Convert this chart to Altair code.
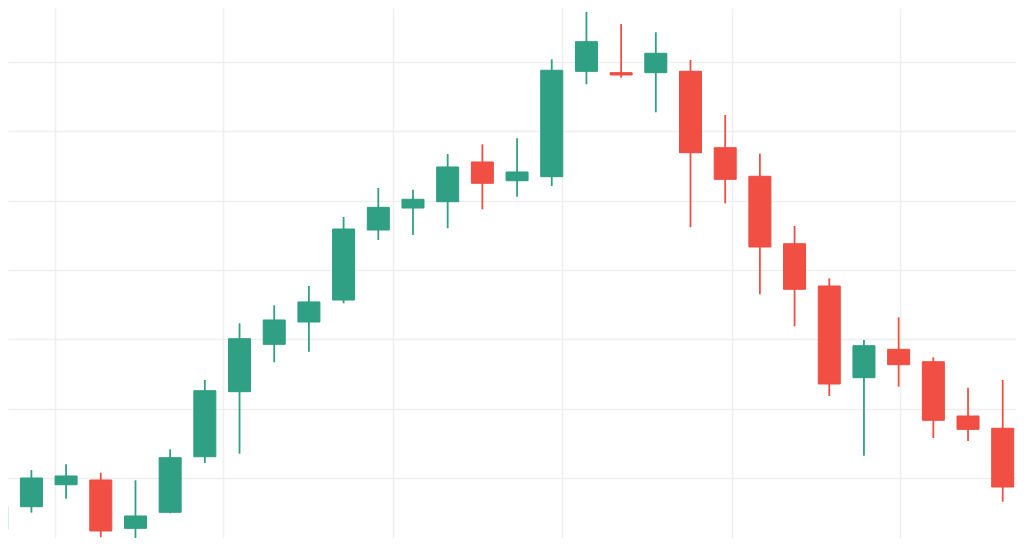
import altair as alt
import pandas as pd

# candle index (time step)
idx = list(range(30))
opens = [92.60, 95.86, 99.03, 99.71, 92.74, 95.05, 103.07, 112.45, 119.28, 122.50,
         125.67, 135.77, 138.94, 139.85, 145.58, 142.88, 143.46, 158.66, 158.46, 158.46,
         158.66, 147.64, 143.52, 133.79, 127.69, 114.47, 118.56, 116.77, 108.94, 107.17]
highs = [96.83, 101.15, 101.98, 100.76, 99.67, 104.14, 114.14, 122.31, 124.91, 127.69,
         137.65, 141.83, 141.58, 146.73, 148.13, 149.00, 160.39, 167.21, 165.48, 164.29,
         160.29, 152.36, 146.78, 136.35, 128.80, 119.90, 123.18, 117.41, 113.02, 114.14]
lows = [91.78, 95.00, 97.01, 91.45, 90.96, 94.90, 102.16, 103.50, 116.69, 118.22,
        125.20, 134.33, 135.05, 136.02, 138.76, 140.57, 142.12, 156.79, 157.74, 152.75,
        136.16, 139.62, 126.50, 121.88, 111.83, 103.22, 113.17, 105.77, 105.34, 96.58]
closes = [95.86, 100.00, 100.29, 92.36, 94.52, 102.93, 112.59, 120.09, 122.79, 125.39,
          135.91, 139.04, 140.20, 144.86, 142.51, 144.14, 158.81, 162.93, 158.13, 161.26,
          146.92, 143.08, 133.32, 127.22, 113.56, 119.08, 116.34, 108.32, 107.02, 98.70]

grid_x = [1.68, 6.515, 11.42, 16.30, 21.19, 26.04]
grid_y = [100, 110, 120, 130, 140, 150, 160]

df = pd.DataFrame({"i": idx, "open": opens, "high": highs, "low": lows, "close": closes})
df["dir"] = ["up" if c >= o else "down" for o, c in zip(opens, closes)]

xscale = alt.Scale(domain=[0.3257, 29.383], nice=False, zero=False, padding=0)
yscale = alt.Scale(domain=[91.346, 167.79], nice=False, zero=False, padding=0)
xaxis = alt.Axis(values=grid_x, labels=False, ticks=False, domain=False, title=None,
                 grid=True, gridColor="#efefef", gridWidth=1.5)
yaxis = alt.Axis(values=grid_y, labels=False, ticks=False, domain=False, title=None,
                 grid=True, gridColor="#efefef", gridWidth=1.5)

fill = alt.Color("dir:N", scale=alt.Scale(domain=["up", "down"], range=["#36ac8f", "#ff5b50"]), legend=None)
edge = alt.Stroke("dir:N", scale=alt.Scale(domain=["up", "down"], range=["#2c9d81", "#ea4c41"]), legend=None)

base = alt.Chart(df)

wicks = base.mark_rule(strokeWidth=1.8, clip=True).encode(
    x=alt.X("i:Q", scale=xscale, axis=xaxis),
    y=alt.Y("low:Q", scale=yscale, axis=yaxis),
    y2="high:Q",
    color=alt.Color("dir:N", scale=alt.Scale(domain=["up", "down"], range=["#2fa084", "#f24f44"]), legend=None),
)

bodies = base.mark_bar(size=22, strokeWidth=1, clip=True).encode(
    x=alt.X("i:Q", scale=xscale, axis=xaxis),
    y=alt.Y("open:Q", scale=yscale, axis=yaxis),
    y2="close:Q",
    color=fill,
    stroke=edge,
)

chart = alt.layer(wicks, bodies).properties(
    width=1008, height=530, padding=0,
    autosize=alt.AutoSizeParams(type="none"),
    background="#ffffff",
).configure_view(stroke=None)

chart.save("out.html", embed_options={"renderer": "svg", "actions": False})
